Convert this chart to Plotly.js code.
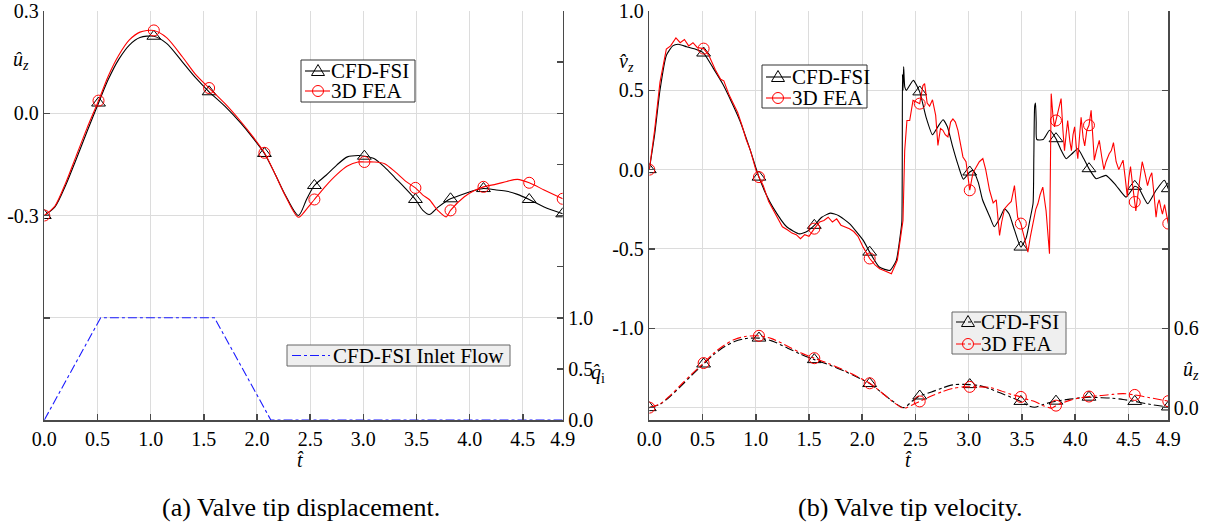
<!DOCTYPE html>
<html>
<head>
<meta charset="utf-8">
<script src="https://cdn.plot.ly/plotly-3.0.1.min.js"></script>
<style>html,body{margin:0;padding:0;background:#fff;}#chart{width:1210px;height:525px;}</style>
</head>
<body>
<div id="chart"></div>
<script>
// ---------- data ----------
// times at which markers are drawn
const markT = [0, 0.51, 1.03, 1.55, 2.07, 2.54, 3.01, 3.49, 3.82, 4.13, 4.56, 4.875];

// x tick labels
const xTickVals = [0, 0.5, 1.0, 1.5, 2.0, 2.5, 3.0, 3.5, 4.0, 4.5, 4.875];
const xTickText = ['0.0', '0.5', '1.0', '1.5', '2.0', '2.5', '3.0', '3.5', '4.0', '4.5', '4.9'];

// legend labels
const seriesNames = ['CFD-FSI', '3D FEA'];
const inletName = 'CFD-FSI Inlet Flow';

// (a) valve tip displacement u_z
const uT = [0, 0.1, 0.2, 0.3, 0.4, 0.51, 0.6, 0.7, 0.8, 0.9, 1.03, 1.15, 1.3, 1.42, 1.55, 1.7, 1.85, 1.95, 2.07, 2.17, 2.27, 2.39, 2.47, 2.54, 2.65, 2.75, 2.85, 2.95, 3.01, 3.1, 3.2, 3.3, 3.4, 3.49, 3.56, 3.62, 3.7, 3.78, 3.82, 3.95, 4.05, 4.13, 4.25, 4.35, 4.45, 4.56, 4.7, 4.875];
const uCFD = [-0.300, -0.275, -0.212, -0.135, -0.055, 0.030, 0.098, 0.158, 0.200, 0.222, 0.226, 0.205, 0.150, 0.105, 0.063, 0.020, -0.030, -0.068, -0.118, -0.178, -0.242, -0.300, -0.250, -0.212, -0.182, -0.152, -0.128, -0.124, -0.126, -0.133, -0.158, -0.190, -0.222, -0.253, -0.285, -0.297, -0.276, -0.258, -0.251, -0.236, -0.226, -0.221, -0.225, -0.229, -0.238, -0.253, -0.275, -0.295];
const uFEA = [-0.300, -0.272, -0.205, -0.125, -0.045, 0.037, 0.108, 0.170, 0.215, 0.238, 0.243, 0.222, 0.165, 0.115, 0.074, 0.028, -0.025, -0.064, -0.116, -0.178, -0.244, -0.305, -0.280, -0.253, -0.212, -0.180, -0.155, -0.143, -0.143, -0.143, -0.148, -0.172, -0.200, -0.219, -0.240, -0.253, -0.285, -0.304, -0.285, -0.245, -0.226, -0.216, -0.208, -0.200, -0.194, -0.204, -0.225, -0.251];

// (a) inlet flow q_i
const qT = [0, 0.53, 1.6, 2.13, 4.875];
const qI = [0, 1.0, 1.0, 0, 0];

// (b) valve tip velocity v_z, CFD-FSI
const vTc = [0, 0.05, 0.10, 0.16, 0.22, 0.27, 0.35, 0.43, 0.51, 0.60, 0.69, 0.77, 0.85, 0.94, 1.03, 1.10, 1.16, 1.29, 1.41, 1.48, 1.55, 1.62, 1.70, 1.78, 1.88, 2.01, 2.07, 2.16, 2.26, 2.32, 2.36, 2.372, 2.378, 2.383, 2.389, 2.40, 2.415, 2.48, 2.54, 2.60, 2.66, 2.71, 2.76, 2.80, 2.85, 2.90, 2.95, 3.01, 3.04, 3.09, 3.13, 3.20, 3.24, 3.29, 3.337, 3.38, 3.43, 3.49, 3.54, 3.58, 3.605, 3.612, 3.62, 3.628, 3.634, 3.64, 3.70, 3.76, 3.82, 3.87, 3.915, 3.97, 4.025, 4.08, 4.13, 4.197, 4.29, 4.385, 4.478, 4.56, 4.60, 4.681, 4.76, 4.838, 4.875];
const vCFD = [0, 0.22, 0.50, 0.72, 0.78, 0.79, 0.775, 0.76, 0.735, 0.64, 0.54, 0.43, 0.31, 0.14, -0.047, -0.16, -0.236, -0.36, -0.405, -0.39, -0.351, -0.30, -0.274, -0.29, -0.34, -0.446, -0.52, -0.614, -0.635, -0.572, -0.40, -0.33, 0.60, 0.50, 0.65, 0.52, 0.50, 0.563, 0.49, 0.33, 0.22, 0.27, 0.315, 0.27, 0.143, 0.03, -0.06, -0.015, -0.005, -0.08, -0.19, -0.30, -0.36, -0.31, -0.246, -0.28, -0.38, -0.488, -0.43, -0.30, -0.21, 0.08, 0.40, 0.42, 0.30, 0.19, 0.19, 0.248, 0.195, 0.12, 0.069, 0.10, 0.132, 0.07, 0.006, -0.057, -0.036, -0.10, -0.173, -0.105, -0.12, -0.215, -0.13, -0.067, -0.12];

// (b) valve tip velocity v_z, 3D FEA
const vTf = [0, 0.05, 0.10, 0.16, 0.20, 0.25, 0.29, 0.33, 0.37, 0.41, 0.45, 0.51, 0.56, 0.62, 0.67, 0.70, 0.75, 0.79, 0.83, 0.87, 0.91, 0.95, 1.00, 1.03, 1.07, 1.12, 1.16, 1.20, 1.25, 1.30, 1.34, 1.38, 1.42, 1.46, 1.50, 1.55, 1.60, 1.64, 1.68, 1.72, 1.76, 1.80, 1.84, 1.88, 1.92, 1.96, 2.01, 2.07, 2.12, 2.164, 2.22, 2.274, 2.33, 2.37, 2.383, 2.399, 2.42, 2.446, 2.477, 2.50, 2.54, 2.57, 2.586, 2.61, 2.633, 2.66, 2.69, 2.711, 2.735, 2.758, 2.78, 2.805, 2.83, 2.852, 2.875, 2.899, 2.92, 2.946, 2.975, 3.01, 3.04, 3.071, 3.10, 3.133, 3.16, 3.196, 3.23, 3.259, 3.29, 3.31, 3.337, 3.37, 3.40, 3.43, 3.46, 3.49, 3.53, 3.556, 3.58, 3.602, 3.63, 3.65, 3.67, 3.696, 3.727, 3.759, 3.775, 3.79, 3.806, 3.82, 3.848, 3.868, 3.885, 3.90, 3.915, 3.93, 3.95, 3.965, 3.98, 3.995, 4.01, 4.025, 4.04, 4.056, 4.075, 4.09, 4.11, 4.13, 4.15, 4.165, 4.18, 4.20, 4.227, 4.25, 4.27, 4.29, 4.32, 4.34, 4.36, 4.385, 4.41, 4.43, 4.45, 4.47, 4.49, 4.505, 4.52, 4.54, 4.56, 4.57, 4.60, 4.63, 4.655, 4.68, 4.70, 4.72, 4.74, 4.76, 4.775, 4.79, 4.805, 4.82, 4.84, 4.875];
const vFEA = [0, 0.25, 0.55, 0.76, 0.78, 0.83, 0.80, 0.82, 0.78, 0.80, 0.77, 0.763, 0.72, 0.63, 0.57, 0.56, 0.47, 0.41, 0.36, 0.28, 0.19, 0.12, 0.0, -0.047, -0.10, -0.20, -0.25, -0.30, -0.36, -0.38, -0.40, -0.41, -0.435, -0.41, -0.42, -0.372, -0.33, -0.32, -0.30, -0.33, -0.31, -0.35, -0.36, -0.372, -0.39, -0.42, -0.49, -0.56, -0.60, -0.624, -0.64, -0.656, -0.57, -0.40, -0.32, 0.12, 0.31, 0.31, 0.437, 0.43, 0.416, 0.53, 0.542, 0.42, 0.40, 0.44, 0.342, 0.153, 0.26, 0.248, 0.22, 0.206, 0.30, 0.32, 0.30, 0.248, 0.16, 0.08, 0.05, -0.13, -0.02, 0.017, 0.05, 0.07, 0.0, -0.13, -0.21, -0.19, -0.414, -0.33, -0.246, -0.22, -0.20, -0.10, -0.30, -0.34, -0.44, -0.52, -0.42, -0.34, -0.25, -0.215, -0.16, -0.11, -0.26, -0.53, 0.479, 0.35, 0.27, 0.31, 0.40, 0.448, 0.25, 0.12, 0.22, 0.31, 0.18, 0.12, 0.22, 0.27, 0.15, 0.069, 0.20, 0.33, 0.20, 0.15, 0.25, 0.28, 0.374, 0.18, 0.06, 0.12, 0.185, 0.08, 0.0, 0.05, 0.10, 0.12, 0.17, 0.05, 0.0, 0.03, 0.06, -0.05, -0.17, -0.05, 0.02, -0.10, -0.204, -0.26, -0.10, 0.05, -0.02, -0.10, -0.05, -0.02, -0.15, -0.30, -0.22, -0.19, -0.24, -0.28, -0.22, -0.34];

// ---------- helpers ----------
function check(a, b, name) { if (a.length !== b.length) throw new Error(name + ': ' + a.length + ' vs ' + b.length); }
check(uT, uCFD, 'uCFD'); check(uT, uFEA, 'uFEA'); check(vTc, vCFD, 'vCFD'); check(vTf, vFEA, 'vFEA');

function pickMarks(t, y) {
  const xs = [], ys = [];
  markT.forEach(m => {
    const i = t.findIndex(v => Math.abs(v - m) < 1e-6);
    if (i < 0) throw new Error('missing marker time ' + m);
    xs.push(t[i]); ys.push(y[i]);
  });
  return { x: xs, y: ys };
}
// displacement relative to its start value, as drawn in panel (b)
const uCFDrel = uCFD.map(v => v - uCFD[0]);
const uFEArel = uFEA.map(v => v - uFEA[0]);

const FONT = 'Liberation Serif, serif';
const BLACK = '#000000', RED = '#ff0000', BLUE = '#1a1aff';
const triMarker = { symbol: 'triangle-up-open', size: 12, color: BLACK, line: { width: 1, color: BLACK } };
const cirMarker = { symbol: 'circle-open', size: 11, color: RED, line: { width: 1, color: RED } };

function curve(x, y, xa, ya, color, dash, shape, smoothing) {
  return { x, y, xaxis: xa, yaxis: ya, type: 'scatter', mode: 'lines', showlegend: false, hoverinfo: 'skip',
    line: { color, width: 1.1, dash: dash || 'solid', shape: shape || 'spline', smoothing: smoothing || 0.8 } };
}
function marks(t, y, xa, ya, marker) {
  const m = pickMarks(t, y);
  return { x: m.x, y: m.y, xaxis: xa, yaxis: ya, type: 'scatter', mode: 'markers', showlegend: false, hoverinfo: 'skip', marker };
}

const traces = [
  // panel (a)
  curve(uT, uCFD, 'x', 'y', BLACK),
  marks(uT, uCFD, 'x', 'y', triMarker),
  curve(uT, uFEA, 'x', 'y', RED),
  marks(uT, uFEA, 'x', 'y', cirMarker),
  { x: qT, y: qI, xaxis: 'x', yaxis: 'y3', type: 'scatter', mode: 'lines', showlegend: false,
    hoverinfo: 'skip', line: { color: BLUE, width: 1.1, dash: 'dashdot' } },
  // panel (b)
  curve(vTc, vCFD, 'x2', 'y2', BLACK, 'solid', 'spline', 0.5),
  marks(vTc, vCFD, 'x2', 'y2', triMarker),
  curve(vTf, vFEA, 'x2', 'y2', RED, 'solid', 'linear'),
  marks(vTf, vFEA, 'x2', 'y2', cirMarker),
  curve(uT, uCFDrel, 'x2', 'y4', BLACK, 'dashdot'),
  marks(uT, uCFDrel, 'x2', 'y4', triMarker),
  curve(uT, uFEArel, 'x2', 'y4', RED, 'dashdot'),
  marks(uT, uFEArel, 'x2', 'y4', cirMarker)
];

// ---------- layout ----------
const W = 1210, H = 525;
const px = v => v / W, py = v => 1 - v / H;
const tickFont = { family: FONT, size: 20, color: '#000' };
const axisBase = { showline: true, linecolor: '#4a4a4a', linewidth: 1.5, ticks: 'inside', ticklen: 6, tickcolor: '#4a4a4a',
  tickwidth: 1.5, tickfont: tickFont, gridcolor: '#dcdcdc', gridwidth: 1, zeroline: false, fixedrange: true, tickmode: 'array' };

function xAxis(domain, anchor) {
  return Object.assign({}, axisBase, { domain, anchor, range: [0, 4.875], tickvals: xTickVals, ticktext: xTickText, showgrid: true });
}
const yDom = [py(420), py(11)];

function ann(text, x, y, size, extra) {
  return Object.assign({ text, x: px(x), y: py(y), xref: 'paper', yref: 'paper', showarrow: false, xanchor: 'center', yanchor: 'middle',
    font: { family: FONT, size: size || 20, color: '#000' } }, extra || {});
}

// hand-drawn legend boxes (LaTeX style: tight rows)
const shapes = [], annotations = [];
function legendBox(x0, y0, x1, y1, fill, border) {
  shapes.push({ type: 'rect', xref: 'paper', yref: 'paper', x0: px(x0), x1: px(x1), y0: py(y1), y1: py(y0),
    fillcolor: fill, line: { color: border, width: 1 }, layer: 'above' });
}
function legendEntry(xl0, xl1, xm, y, color, dash, symbol, text, xt) {
  shapes.push({ type: 'line', xref: 'paper', yref: 'paper', x0: px(xl0), x1: px(xl1), y0: py(y), y1: py(y),
    line: { color, width: 1.1, dash }, layer: 'above' });
  if (symbol === 'tri') {
    shapes.push({ type: 'path', xref: 'paper', yref: 'paper', layer: 'above',
      path: `M ${px(xm - 6.5)},${py(y + 4.5)} L ${px(xm + 6.5)},${py(y + 4.5)} L ${px(xm)},${py(y - 6.5)} Z`,
      line: { color, width: 1 }, fillcolor: 'rgba(0,0,0,0)' });
  } else if (symbol === 'cir') {
    shapes.push({ type: 'circle', xref: 'paper', yref: 'paper', layer: 'above',
      x0: px(xm - 5.5), x1: px(xm + 5.5), y0: py(y + 5.5), y1: py(y - 5.5), line: { color, width: 1 }, fillcolor: 'rgba(0,0,0,0)' });
  }
  annotations.push(ann(text, xt, y, 21, { xanchor: 'left' }));
}
// (a) main legend
legendBox(301, 60, 415, 102, '#ffffff', '#333333');
legendEntry(305, 330, 318, 71, BLACK, 'solid', 'tri', seriesNames[0], 329);
legendEntry(305, 330, 318, 91, RED, 'solid', 'cir', seriesNames[1], 329);
// (a) inlet legend
legendBox(287, 345, 510, 366, '#efefef', '#666666');
legendEntry(292, 330, null, 355.5, BLUE, 'dashdot', null, inletName, 331);
// (b) upper legend
legendBox(762, 65, 867, 108, '#ffffff', '#333333');
legendEntry(766, 791, 778, 77, BLACK, 'solid', 'tri', seriesNames[0], 790);
legendEntry(766, 791, 778, 98, RED, 'solid', 'cir', seriesNames[1], 790);
// (b) lower legend
legendBox(952, 312, 1066, 354, '#efefef', '#666666');
legendEntry(956, 981, 968, 322, BLACK, 'dashdot', 'tri', seriesNames[0], 979);
legendEntry(956, 981, 968, 344, RED, 'dashdot', 'cir', seriesNames[1], 979);

annotations.push(
  ann('<i>û</i><sub><i>z</i></sub>', 21, 61),
  ann('<i>q̂</i><sub>i</sub>', 598, 373),
  ann('<i>t̂</i>', 300, 460),
  ann('<i>v̂</i><sub><i>z</i></sub>', 626, 62),
  ann('<i>û</i><sub><i>z</i></sub>', 1191, 370),
  ann('<i>t̂</i>', 908, 460),
  ann('(a) Valve tip displacement.', 301, 507, 26),
  ann('(b) Valve tip velocity.', 910, 507, 26)
);

const layout = {
  width: W, height: H, margin: { l: 0, r: 0, t: 0, b: 0 }, paper_bgcolor: '#fff', plot_bgcolor: '#fff', showlegend: false,
  font: { family: FONT, size: 20, color: '#000' },
  xaxis: xAxis([px(44.3), px(562.7)], 'y'),
  yaxis: Object.assign({}, axisBase, { domain: yDom, anchor: 'x', range: [-0.9, 0.3], tickvals: [-0.9, -0.6, -0.3, 0, 0.3],
    ticktext: ['', '', '-0.3', '0.0', '0.3'], showgrid: true }),
  yaxis3: Object.assign({}, axisBase, { overlaying: 'y', anchor: 'x', side: 'right', range: [0, 4.0],
    tickvals: [0, 0.5, 1.0, 1.5, 2.0, 2.5, 3.0, 3.5, 4.0], ticktext: ['0.0', '0.5', '1.0', '', '', '', '', '', ''], showgrid: false }),
  xaxis2: xAxis([px(649.3), px(1168.3)], 'y2'),
  yaxis2: Object.assign({}, axisBase, { domain: yDom, anchor: 'x2', range: [-1.578, 1.0], tickvals: [-1.5, -1.0, -0.5, 0, 0.5, 1.0],
    ticktext: ['', '-1.0', '-0.5', '0.0', '0.5', '1.0'], showgrid: true }),
  yaxis4: Object.assign({}, axisBase, { overlaying: 'y2', anchor: 'x2', side: 'right', range: [-0.0936, 3.0],
    tickvals: [0, 0.6, 1.2, 1.8, 2.4, 3.0], ticktext: ['0.0', '0.6', '', '', '', ''], showgrid: false }),
  shapes, annotations
};

Plotly.newPlot('chart', traces, layout, { staticPlot: true, displayModeBar: false });
</script>
</body>
</html>
